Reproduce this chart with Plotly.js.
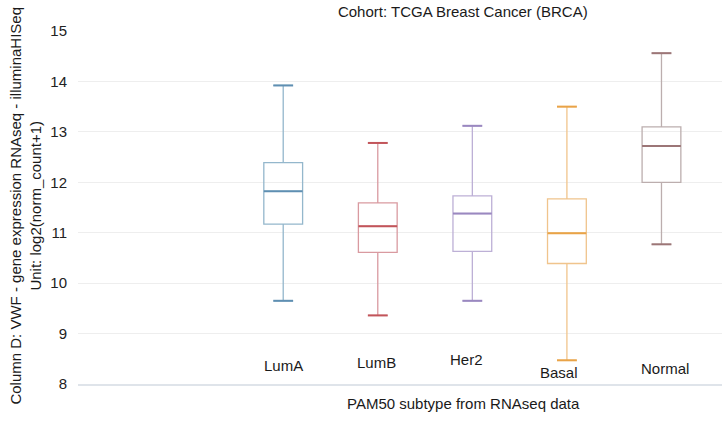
<!DOCTYPE html>
<html>
<head>
<meta charset="utf-8">
<script src="https://cdn.plot.ly/plotly-3.0.1.min.js"></script>
<style>html,body{margin:0;padding:0;background:#fff;}#chart{width:722px;height:443px;}</style>
</head>
<body>
<div id="chart"></div>
<script>
// ---- data ----
const categories = ["LumA", "LumB", "Her2", "Basal", "Normal"];
const lowerWhisker = [9.65, 9.36, 9.65, 8.47, 10.77];
const q1Values     = [11.17, 10.61, 10.63, 10.39, 12.00];
const medianValues = [11.82, 11.13, 11.38, 10.99, 12.72];
const q3Values     = [12.39, 11.59, 11.73, 11.67, 13.10];
const upperWhisker = [13.92, 12.78, 13.12, 13.50, 14.56];
const yTickValues  = [8, 9, 10, 11, 12, 13, 14, 15];

// ---- style ----
const lightColors = ["#94b7cc", "#d99aa0", "#bdb0d6", "#f0c48c", "#bcaeae"];
const darkColors  = ["#5f8fb2", "#c2555a", "#9a88c0", "#e9a347", "#9c7677"];
const labelY      = [8.37, 8.42, 8.49, 8.23, 8.31];
const labelShift  = [0, -1, -6, -8, 4];
const boxWidth = 0.41;
const capHalf = 0.105;
const medHalf = boxWidth / 2;
const FONT = "Liberation Sans, Arial, sans-serif";

const traces = [];
categories.forEach((c, i) => {
  traces.push({
    type: "box",
    name: c,
    x: [i],
    q1: [q1Values[i]],
    median: [medianValues[i]],
    q3: [q3Values[i]],
    lowerfence: [lowerWhisker[i]],
    upperfence: [upperWhisker[i]],
    width: boxWidth,
    whiskerwidth: 0.5,
    line: {color: lightColors[i], width: 1.3},
    fillcolor: "rgba(255,255,255,0)",
    boxpoints: false,
    showlegend: false,
    hoverinfo: "skip"
  });
  // darker median and caps
  traces.push({
    type: "scatter",
    mode: "lines",
    x: [i - medHalf, i + medHalf, null, i - capHalf, i + capHalf, null, i - capHalf, i + capHalf],
    y: [medianValues[i], medianValues[i], null, upperWhisker[i], upperWhisker[i], null, lowerWhisker[i], lowerWhisker[i]],
    line: {color: darkColors[i], width: 2},
    showlegend: false,
    hoverinfo: "skip"
  });
});

const annotations = categories.map((c, i) => ({
  x: i, y: labelY[i], xref: "x", yref: "y",
  text: c, showarrow: false, xshift: labelShift[i],
  font: {family: FONT, size: 15, color: "#1a1a1a"},
  xanchor: "center", yanchor: "middle"
}));
annotations.push({
  x: 0.599, y: -0.054, xref: "paper", yref: "paper",
  text: "PAM50 subtype from RNAseq data", showarrow: false,
  font: {family: FONT, size: 15, color: "#1a1a1a"},
  xanchor: "center", yanchor: "middle"
});
annotations.push({
  x: -0.0815, y: 0.504, xref: "paper", yref: "paper",
  text: "Column D: VWF - gene expression RNAseq - illuminaHISeq<br>Unit: log2(norm_count+1)",
  showarrow: false, textangle: -90,
  font: {family: FONT, size: 15, color: "#1a1a1a"},
  xanchor: "center", yanchor: "middle"
});

const layout = {
  width: 722, height: 443,
  margin: {l: 78, r: 0, t: 31, b: 59},
  paper_bgcolor: "#ffffff", plot_bgcolor: "#ffffff",
  font: {family: FONT, size: 15, color: "#222"},
  title: {
    text: "Cohort: TCGA Breast Cancer (BRCA)",
    x: 0.641, xanchor: "center", xref: "container",
    y: 0.973, yanchor: "middle", yref: "container",
    font: {family: FONT, size: 15, color: "#1a1a1a"}
  },
  xaxis: {
    type: "linear", range: [-2.17, 4.64],
    showticklabels: false, showgrid: false, zeroline: false,
    showline: true, linecolor: "#dfe4ea", linewidth: 2, ticks: ""
  },
  yaxis: {
    range: [8, 15], tickvals: yTickValues, ticktext: yTickValues.map(String),
    showgrid: true, gridcolor: "#eeeeee", gridwidth: 1,
    zeroline: false, showline: false, ticks: "",
    ticklabelstandoff: 10,
    tickfont: {family: FONT, size: 15, color: "#222"}
  },
  annotations: annotations,
  showlegend: false
};

Plotly.newPlot("chart", traces, layout, {staticPlot: true, displayModeBar: false});
</script>
</body>
</html>
